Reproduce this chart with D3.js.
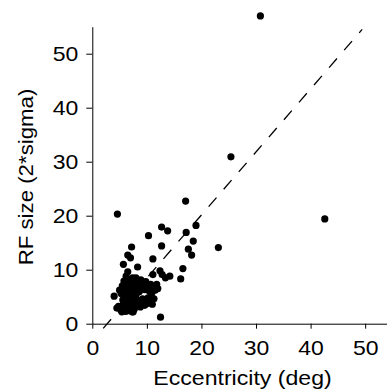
<!DOCTYPE html>
<html>
<head>
<meta charset="utf-8">
<script src="https://cdn.jsdelivr.net/npm/d3@7"></script>
<style>
  body { margin: 0; background: #fff; }
  svg { display: block; }
</style>
</head>
<body>
<div id="chart"></div>
<script>
// eccentricity (deg) vs RF size (2*sigma), one entry per cell
const ecc = [
  30.8, 25.4, 42.6, 4.6, 17.1, 23.1, 19.0, 17.2, 18.5, 17.6, 18.2, 16.6, 16.2,
  12.7, 13.8, 10.3, 12.7, 11.1, 7.2, 6.5, 7.0, 5.7, 8.3, 12.4, 11.1, 12.8, 13.4,
  14.2, 12.5, 4.0, 6.2, 6.5,
  5.8, 6.3, 6.8, 7.2, 7.6, 8.0, 8.5, 8.9, 9.3, 9.8, 10.2, 10.7, 11.3, 11.8,
  6.0, 6.6, 7.1, 7.8, 8.3, 9.0, 9.6, 10.4, 11.0, 11.5,
  5.3, 5.9, 6.4, 7.0, 7.5, 8.1, 10.8, 11.3, 5.6, 6.2, 6.9, 7.4, 8.4, 9.2, 10.2,
  4.8, 5.2, 5.9, 6.5, 7.0, 7.7, 8.2, 8.8, 9.6, 10.5, 11.0, 7.5, 4.5, 5.4,
  5.0, 5.5, 6.1, 6.6, 7.3, 7.9, 8.6, 9.3, 10.0, 10.6, 8.0, 7.4, 6.0, 6.8, 7.6,
  8.6, 6.5, 7.2, 8.0, 7.9, 6.7, 5.7, 6.1, 7.3, 8.5, 9.4, 10.0, 11.8, 12.0
];
const rfSize = [
  57.0, 30.9, 19.4, 20.3, 22.7, 14.1, 18.2, 16.9, 15.3, 13.8, 12.7, 10.2, 8.3,
  17.9, 17.2, 16.3, 14.4, 12.0, 14.2, 12.7, 12.2, 11.0, 10.5, 9.8, 9.1, 9.1, 8.5,
  8.8, 1.2, 5.1, 8.8, 9.6,
  7.9, 8.3, 7.6, 8.0, 7.3, 7.9, 7.5, 8.1, 7.4, 7.8, 7.0, 7.3, 6.8, 6.6,
  6.8, 6.4, 6.9, 6.5, 6.9, 6.6, 6.3, 6.1, 5.9, 6.2,
  5.6, 5.2, 5.8, 5.4, 5.0, 5.6, 5.2, 4.6, 4.4, 4.0, 4.5, 3.9, 4.3, 4.6, 4.8,
  3.2, 2.6, 3.0, 2.4, 3.3, 2.7, 3.5, 3.1, 3.4, 3.9, 3.6, 2.2, 2.9, 2.2,
  6.2, 7.0, 7.4, 7.1, 7.6, 7.0, 6.6, 6.9, 6.7, 6.6, 8.5, 8.5, 6.0, 6.0, 5.8,
  5.9, 5.0, 4.8, 4.7, 4.1, 3.7, 3.6, 2.3, 2.2, 3.9, 4.0, 3.7, 7.3, 6.5
];
// dashed fit line end points
const fitX = [2.0, 49.45];
const fitY = [-0.86, 54.5];
const xTicks = [0, 10, 20, 30, 40, 50];
const yTicks = [0, 10, 20, 30, 40, 50];

const W = 387, H = 392;
const svg = d3.select('#chart').append('svg')
  .attr('width', W).attr('height', H);

const x = d3.scaleLinear().domain([0, 54]).range([92.3, 387]);
const y = d3.scaleLinear().domain([0, 55]).range([323.7, 26.7]);

const font = '"Liberation Sans", Arial, Helvetica, sans-serif';

// x axis
const gx = svg.append('g')
  .attr('transform', `translate(0,${y(0)})`)
  .call(d3.axisBottom(x).tickValues(xTicks).tickSize(5).tickPadding(12).tickSizeOuter(0));
gx.select('.domain').attr('stroke', '#000');
gx.selectAll('.tick line').attr('stroke', '#000');
gx.selectAll('text')
  .attr('font-family', font).attr('font-size', 20).attr('fill', '#000')
  .attr('transform', 'scale(1.15,1)');

// y axis
const gy = svg.append('g')
  .attr('transform', `translate(${x(0)},0)`)
  .call(d3.axisLeft(y).tickValues(yTicks).tickSize(6).tickPadding(8).tickSizeOuter(0));
gy.select('.domain').attr('stroke', '#000');
gy.selectAll('.tick line').attr('stroke', '#000');
gy.selectAll('text')
  .attr('font-family', font).attr('font-size', 20).attr('fill', '#000')
  .attr('x', -14 / 1.15)
  .attr('transform', 'scale(1.15,1)');

// fit line
svg.append('line')
  .attr('x1', x(fitX[0])).attr('y1', y(fitY[0]))
  .attr('x2', x(fitX[1])).attr('y2', y(fitY[1]))
  .attr('stroke', '#000')
  .attr('stroke-width', 1.3)
  .attr('stroke-dasharray', '12,11');

// dots
svg.selectAll('circle.pt')
  .data(d3.range(ecc.length))
  .join('circle')
  .attr('class', 'pt')
  .attr('cx', (i) => x(ecc[i]))
  .attr('cy', (i) => y(rfSize[i]))
  .attr('r', 3.6)
  .attr('fill', '#000');

// axis titles
svg.append('text')
  .attr('transform', 'translate(242.5,385) scale(1.1,1)')
  .attr('text-anchor', 'middle')
  .attr('font-family', font).attr('font-size', 21)
  .text('Eccentricity (deg)');

svg.append('text')
  .attr('transform', 'translate(33,177) rotate(-90) scale(1.06,1)')
  .attr('text-anchor', 'middle')
  .attr('font-family', font).attr('font-size', 21)
  .text('RF size (2*sigma)');
</script>
</body>
</html>
